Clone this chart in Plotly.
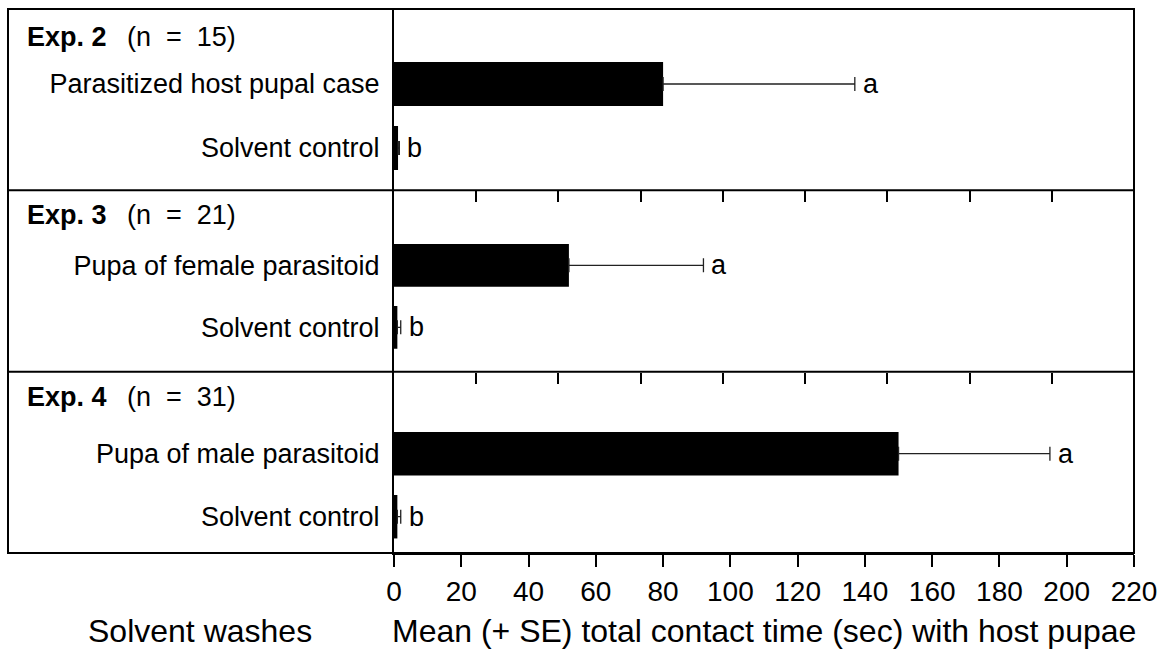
import plotly.graph_objects as go
from plotly.subplots import make_subplots

# ---------------- data ----------------
experiments = ["Exp. 2", "Exp. 3", "Exp. 4"]
sample_sizes = [15, 21, 31]
treatments = ["Parasitized host pupal case", "Pupa of female parasitoid", "Pupa of male parasitoid"]
control_label = "Solvent control"
treatment_means = [80, 52, 150]
treatment_se = [57, 40, 45]
control_means = [1.2, 1.0, 1.0]
control_se = [0.4, 1.0, 1.0]
treatment_letters = ["a", "a", "a"]
control_letters = ["b", "b", "b"]
x_ticks = list(range(0, 221, 20))
x_title = "Mean (+ SE) total contact time (sec) with host pupae"
y_title = "Solvent washes"

# ---------------- layout constants ----------------
FONT = "Liberation Sans, Arial, Helvetica, sans-serif"
W, H = 1169, 652
ML, MR, MT, MB = 394, 35, 9, 99
PW, PH = W - ML - MR, H - MT - MB
BOX_LEFT = (8 - ML) / PW
# per-panel y ranges (bottom, top) so that bars sit where they do in the original
y_ranges = [[2.661, -0.172], [2.715, -0.210], [2.576, -0.302]]
header_y = [(H - MB - 37) / PH, (H - MB - 215) / PH, (H - MB - 397) / PH]

fig = make_subplots(rows=3, cols=1, vertical_spacing=0)

annotations = []
for i in range(3):
    r = i + 1
    fig.add_trace(
        go.Bar(
            x=[treatment_means[i], control_means[i]],
            y=[1, 2],
            orientation="h",
            width=0.69,
            marker=dict(color="black", line=dict(width=0)),
            error_x=dict(
                type="data",
                symmetric=False,
                array=[treatment_se[i], control_se[i]],
                arrayminus=[0, 0],
                color="#222222",
                thickness=1.3,
                width=7,
            ),
            showlegend=False,
            hoverinfo="x",
        ),
        row=r, col=1,
    )
    xa = "x" if r == 1 else f"x{r}"
    ya = "y" if r == 1 else f"y{r}"
    for yv, m, s, letter in [(1, treatment_means[i], treatment_se[i], treatment_letters[i]),
                             (2, control_means[i], control_se[i], control_letters[i])]:
        annotations.append(dict(
            x=m + s, y=yv, xref=xa, yref=ya, text=letter, showarrow=False,
            xanchor="left", yanchor="middle", xshift=6,
            font=dict(family=FONT, size=27, color="black"),
        ))
    # experiment headers
    annotations.append(dict(
        x=(25 - ML) / PW, y=header_y[i], xref="paper", yref="paper",
        text=f"<b>{experiments[i]}</b>", showarrow=False, xanchor="left", yanchor="middle",
        font=dict(family=FONT, size=27, color="black"),
    ))
    annotations.append(dict(
        x=(125 - ML) / PW, y=header_y[i], xref="paper", yref="paper",
        text=f"(n&nbsp;&nbsp;=&nbsp;&nbsp;{sample_sizes[i]})", showarrow=False,
        xanchor="left", yanchor="middle",
        font=dict(family=FONT, size=27, color="black"),
    ))

    fig.update_yaxes(
        row=r, col=1,
        range=y_ranges[i],
        tickvals=[1, 2],
        ticktext=[treatments[i], control_label],
        ticks="",
        ticklabelstandoff=7,
        tickfont=dict(family=FONT, size=27, color="black"),
        showline=True, linewidth=2, linecolor="black",
        showgrid=False, zeroline=False,
    )
    if r < 3:
        fig.update_xaxes(
            row=r, col=1,
            range=[0, 220],
            tickvals=[220 * k / 9 for k in range(1, 9)],
            ticks="outside", ticklen=11, tickwidth=2, tickcolor="black",
            showticklabels=False, showline=False, showgrid=False, zeroline=False,
        )
    else:
        fig.update_xaxes(
            row=r, col=1,
            range=[0, 220],
            tickvals=x_ticks,
            ticktext=[str(t) for t in x_ticks],
            ticks="outside", ticklen=12, tickwidth=2, tickcolor="black",
            tickfont=dict(family=FONT, size=28, color="black"),
            showline=True, linewidth=2, linecolor="black",
            showgrid=False, zeroline=False,
        )

annotations.append(dict(
    x=0.5, y=(H - MB - 631) / PH, xref="paper", yref="paper", text=x_title,
    showarrow=False, xanchor="center", yanchor="middle",
    font=dict(family=FONT, size=32, color="black"),
))
annotations.append(dict(
    x=(200 - ML) / PW, y=(H - MB - 631) / PH, xref="paper", yref="paper", text=y_title,
    showarrow=False, xanchor="center", yanchor="middle",
    font=dict(family=FONT, size=32, color="black"),
))

shapes = [
    dict(type="rect", xref="paper", yref="paper", x0=BOX_LEFT, x1=1, y0=0, y1=1,
         line=dict(color="black", width=2)),
    dict(type="line", xref="paper", yref="paper", x0=BOX_LEFT, x1=1, y0=1 / 3, y1=1 / 3,
         line=dict(color="black", width=2)),
    dict(type="line", xref="paper", yref="paper", x0=BOX_LEFT, x1=1, y0=2 / 3, y1=2 / 3,
         line=dict(color="black", width=2)),
]

fig.update_layout(
    width=W, height=H,
    margin=dict(l=ML, r=MR, t=MT, b=MB, pad=0),
    paper_bgcolor="white", plot_bgcolor="white",
    font=dict(family=FONT, color="black"),
    annotations=annotations,
    shapes=shapes,
    bargap=0.3,
)

fig.write_html("out.html")
